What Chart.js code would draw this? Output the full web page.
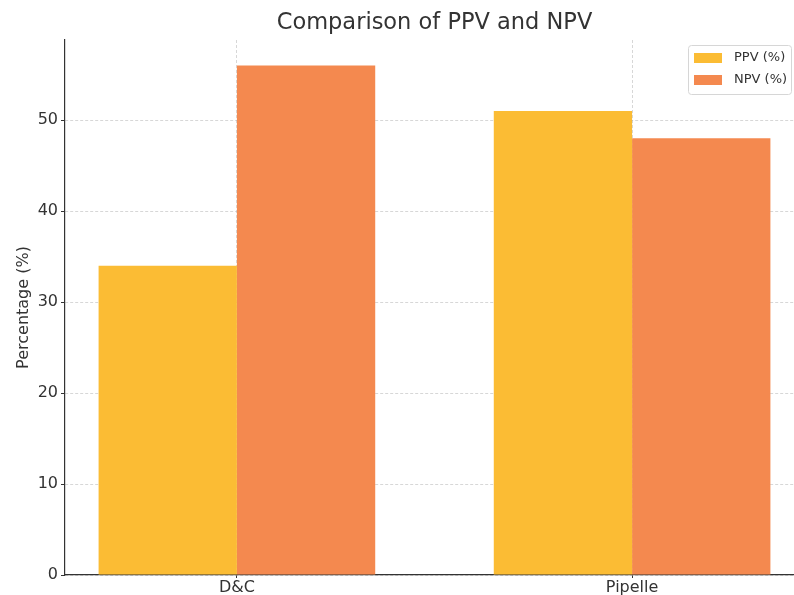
<!DOCTYPE html>
<html>
<head>
<meta charset="utf-8">
<script src="https://cdn.jsdelivr.net/npm/chart.js@4"></script>
<style>
  html, body { margin: 0; padding: 0; background: #fff; overflow: hidden; }
  #wrap { width: 820px; height: 595px; }
</style>
</head>
<body>
<div id="wrap"><canvas id="c" width="820" height="595"></canvas></div>
<script>
// Data
const categories = ['D&C', 'Pipelle'];
const ppvValues = [34, 51];
const npvValues = [56, 48];
const yTicks = [0, 10, 20, 30, 40, 50];
const seriesNames = ['PPV (%)', 'NPV (%)'];
const chartTitle = 'Comparison of PPV and NPV';
const yTitle = 'Percentage (%)';

const FONT = "'DejaVu Sans', sans-serif";
const TEXT = '#333333';
const GRID = 'rgba(170,170,170,0.6)';

// Title centred over the plotting area
const plotTitle = {
  id: 'plotTitle',
  afterDraw(chart) {
    const { ctx, chartArea } = chart;
    ctx.save();
    ctx.font = '22.5px ' + FONT;
    ctx.fillStyle = TEXT;
    ctx.textAlign = 'center';
    ctx.textBaseline = 'alphabetic';
    ctx.fillText(chartTitle, (chartArea.left + chartArea.right) / 2, 29);
    ctx.restore();
  }
};

// Legend box drawn inside the upper-right corner of the plot
const innerLegend = {
  id: 'innerLegend',
  afterDraw(chart) {
    const { ctx, chartArea } = chart;
    const w = 103, h = 49;
    const x = chartArea.right - 13 - w;
    const y = chartArea.top + 5;
    ctx.save();
    ctx.beginPath();
    ctx.roundRect(x + 0.5, y + 0.5, w, h, 3);
    ctx.fillStyle = 'rgba(255,255,255,0.85)';
    ctx.fill();
    ctx.strokeStyle = '#d6d6d6';
    ctx.lineWidth = 1;
    ctx.stroke();
    ctx.font = '13px ' + FONT;
    ctx.textAlign = 'left';
    ctx.textBaseline = 'middle';
    chart.data.datasets.forEach((ds, i) => {
      const cy = y + 13 + i * 22;
      ctx.fillStyle = ds.backgroundColor;
      ctx.fillRect(x + 6, cy - 5, 28, 10);
      ctx.fillStyle = TEXT;
      ctx.fillText(ds.label, x + 46, cy);
    });
    ctx.restore();
  }
};

const toPoints = vals => vals.map((v, i) => ({ x: i, y: v }));

new Chart(document.getElementById('c'), {
  type: 'bar',
  data: {
    datasets: [
      { label: seriesNames[0], data: toPoints(ppvValues), backgroundColor: '#FBBC34', borderColor: '#FBBC34', borderWidth: 0 },
      { label: seriesNames[1], data: toPoints(npvValues), backgroundColor: '#F4894F', borderColor: '#F4894F', borderWidth: 0 }
    ]
  },
  options: {
    responsive: false,
    animation: false,
    devicePixelRatio: 1,
    categoryPercentage: 0.7,
    barPercentage: 1.0,
    layout: { padding: { top: 40, right: 16, left: 0, bottom: 0 } },
    plugins: {
      legend: { display: false },
      tooltip: { enabled: false },
      title: { display: false }
    },
    scales: {
      x: {
        type: 'linear',
        min: -0.435,
        max: 1.435,
        offset: false,
        z: 1,
        afterBuildTicks: s => { s.ticks = categories.map((c, i) => ({ value: i })); },
        afterFit: s => { s.height = 20; },
        ticks: {
          callback: v => categories[v],
          font: { family: FONT, size: 16 },
          color: TEXT,
          padding: 0,
          maxRotation: 0,
          autoSkip: false
        },
        grid: {
          offset: false,
          color: GRID,
          lineWidth: 0.8,
          drawTicks: true,
          tickLength: 3,
          tickColor: TEXT,
          tickWidth: 1,
          tickBorderDash: []
        },
        border: { display: true, color: TEXT, width: 1.2, dash: [3, 2] }
      },
      y: {
        min: 0,
        max: 58.8,
        z: 1,
        afterBuildTicks: s => { s.ticks = yTicks.map(v => ({ value: v })); },
        afterFit: s => { s.width = 65; },
        ticks: {
          font: { family: FONT, size: 16 },
          color: TEXT,
          padding: 3
        },
        grid: {
          color: GRID,
          lineWidth: 0.8,
          drawTicks: true,
          tickLength: 4,
          tickColor: TEXT,
          tickWidth: 1,
          tickBorderDash: []
        },
        border: { display: true, color: TEXT, width: 1.2, dash: [3, 2] },
        title: {
          display: true,
          text: yTitle,
          font: { family: FONT, size: 16 },
          color: TEXT,
          padding: { top: 14, bottom: 0 }
        }
      }
    }
  },
  plugins: [plotTitle, innerLegend]
});
</script>
</body>
</html>
